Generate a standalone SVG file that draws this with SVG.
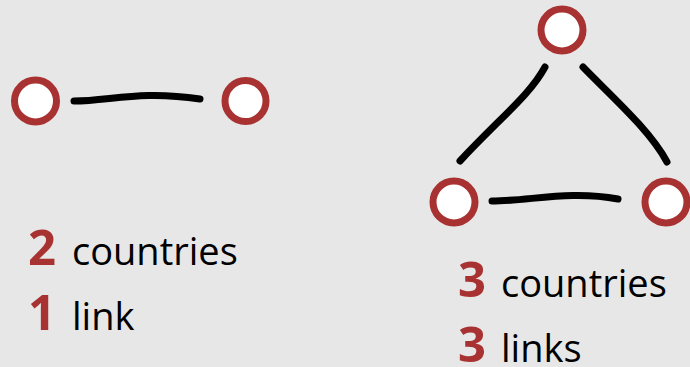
<svg xmlns="http://www.w3.org/2000/svg" width="690" height="367" viewBox="0 0 690 367">
<style>
.node{fill:#fff;stroke:#a83232;stroke-width:7}
.link{fill:none;stroke:#000;stroke-width:7;stroke-linecap:round}
.num{font-family:"Open Sans",sans-serif;font-weight:bold;fill:#a83232;font-size:49px}
.word{font-family:"Open Sans",sans-serif;fill:#000;font-size:38px}
</style>
<rect width="690" height="367" fill="#e7e7e7"/>
<g id="connectors">
<path class="link" d="M74,101 C110,101 140,90 200,99"/>
<path class="link" d="M545,67 C530,95 500,118 460,161"/>
<path class="link" d="M583,67 C610,95 650,130 667,162"/>
<path class="link" d="M492,201 C530,201 570,190 618,199"/>
</g>
<g id="n1"><circle class="node" cx="35.5" cy="101" r="21"/></g>
<g id="n2"><circle class="node" cx="245.5" cy="101" r="20.5"/></g>
<g id="n3"><circle class="node" cx="562" cy="30" r="21"/></g>
<g id="n4"><circle class="node" cx="454" cy="202" r="21"/></g>
<g id="n5"><circle class="node" cx="666" cy="202" r="21"/></g>
<g id="label1">
<text x="28" y="265"><tspan class="num">2</tspan><tspan class="word" x="72">countries</tspan></text>
<text x="28" y="330"><tspan class="num">1</tspan><tspan class="word" x="72">link</tspan></text>
</g>
<g id="label2">
<text x="458" y="297"><tspan class="num">3</tspan><tspan class="word" x="501">countries</tspan></text>
<text x="458" y="362"><tspan class="num">3</tspan><tspan class="word" x="501">links</tspan></text>
</g>
</svg>
